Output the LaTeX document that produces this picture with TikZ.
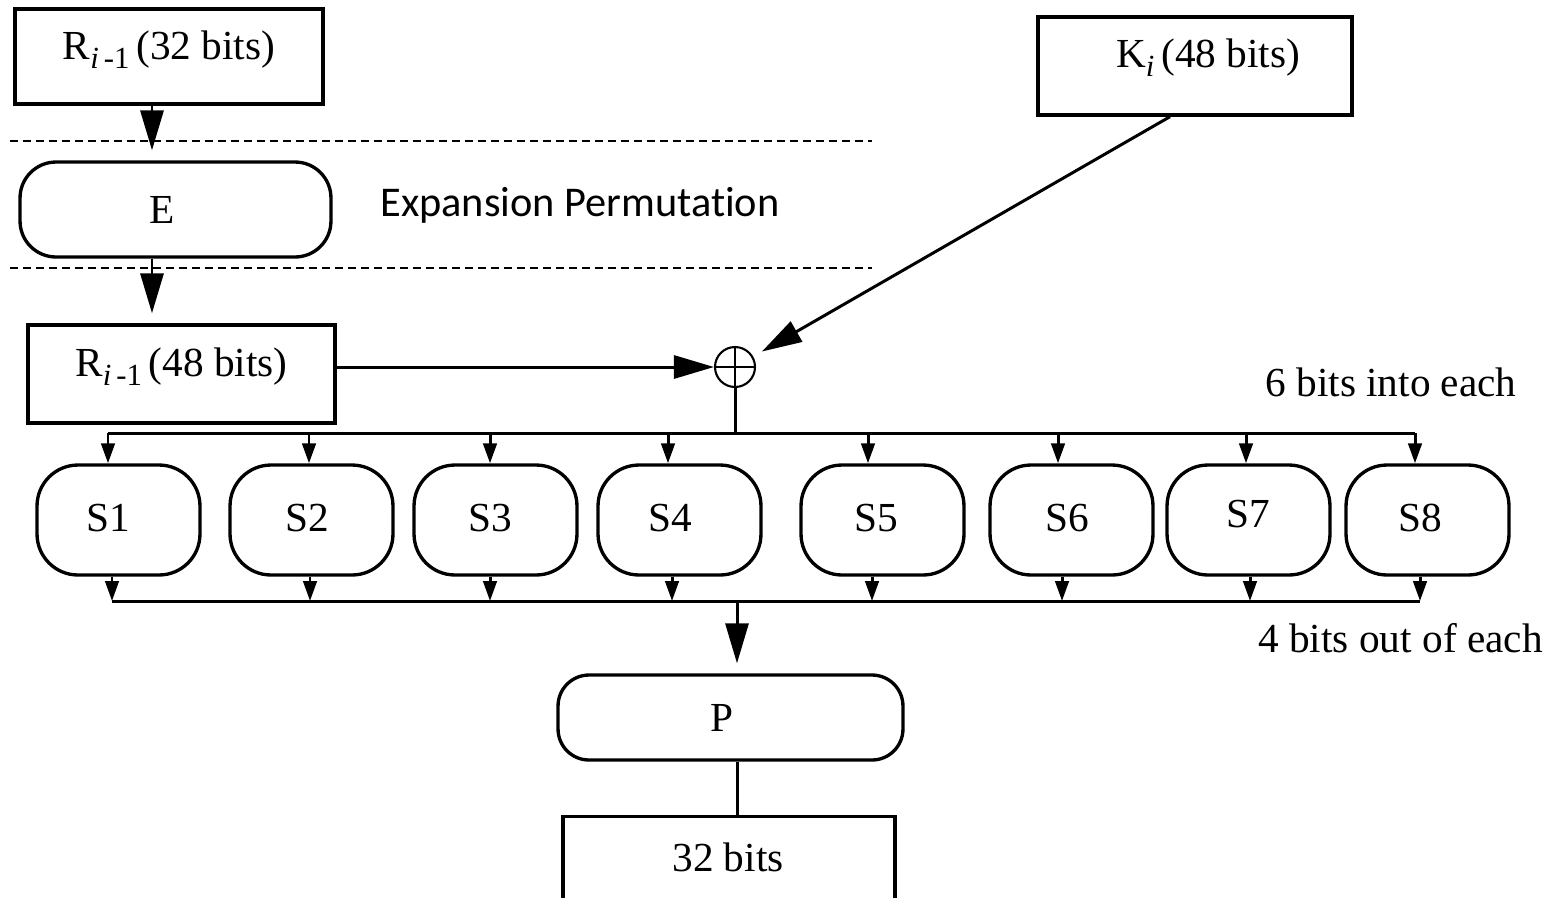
\documentclass[tikz,border=0pt]{standalone}
\usepackage{fontspec}
\setmainfont{Liberation Serif}
\newfontfamily\carlitofont[Ligatures=NoCommon]{Carlito}
\usetikzlibrary{arrows.meta}
\newcommand{\subtxt}[1]{\raisebox{-0.22em}{\fontsize{17.5}{20}\selectfont #1}}
\begin{document}
\begin{tikzpicture}[x=0.02cm,y=-0.02cm,
  every node/.style={font=\fontsize{23.5}{28}\selectfont, inner sep=0pt},
  box/.style={draw, line width=1.9pt, minimum width=#1, minimum height=1.94cm},
  rbox/.style={draw, line width=1.9pt, rounded corners=0.72cm},
  conn/.style={line width=1.7pt},
  big/.style={conn, -{Triangle[length=0.8cm,width=0.46cm]}, shorten >=0.2cm},
  small/.style={conn, -{Triangle[length=0.4cm,width=0.27cm]}},
  sep/.style={line width=1.1pt, dash pattern=on 0.16cm off 0.1cm}]
\path[use as bounding box] (0,0) rectangle (1551,897);
\clip (0,0) rectangle (1551,897);

% top boxes
\node[box=6.16cm, minimum height=1.9cm,
  label={[yshift=0.13cm]center:R\subtxt{\textit{i}\,-1}\,(32 bits)}] (r32) at (169,56.5) {};
\node[rbox, minimum width=6.22cm, minimum height=1.9cm,
  label={[xshift=-0.27cm]center:E}] (E) at (175.5,209.5) {};
\node[box=6.14cm, minimum height=1.96cm,
  label={[yshift=0.14cm]center:R\subtxt{\textit{i}\,-1}\,(48 bits)}] (r48) at (181.5,374) {};
\node[box=6.28cm, minimum height=1.96cm,
  label={[xshift=0.26cm,yshift=0.16cm]center:K\subtxt{\textit{i}}\,(48 bits)}] (key) at (1195,66) {};

\node[font=\carlitofont\fontsize{24.1}{28}\selectfont] (exp) at (580,205) {Expansion Permutation};

% dashed separators
\draw[sep] (10,141) -- (872,141);
\draw[sep] (10,268) -- (872,268);

\coordinate (ax) at (152,0);
\draw[big] (r32.south -| ax) -- (E.north -| ax);
\draw[big] (E.south -| ax) -- (r48.north -| ax);

% xor
\node[circle, draw, line width=1.2pt, minimum size=0.8cm] (xor) at (735,367) {};
\draw[line width=1.1pt] (xor.north) -- (xor.south);
\draw[line width=1.1pt] (xor.west) -- (xor.east);

\draw[big, shorten >=0pt] (r48.east |- xor.west) -- (xor.west);
\coordinate (kx) at (1170,0);
\draw[big] (key.south -| kx) -- (xor);

% S boxes
\coordinate (busy) at (0,433);
\draw[conn] (xor.south) -- (xor.south |- busy);
\foreach \i/\xin/\xout/\cx/\tx/\ty in {1/108/112/118.5/108/518, 2/309/310/311.5/307/518, 3/490/490/495.5/490/518, 4/668/672/679.5/670/518, 5/868/872/882.5/876/518, 6/1058/1062/1071.5/1067/518, 7/1246/1250/1248.5/1248/514, 8/1415/1420/1427.5/1420/518}{
  \node[rbox, rounded corners=0.82cm, minimum width=3.26cm, minimum height=2.2cm,
    label={[xshift={(\tx-\cx)*0.02cm}, yshift={(520-\ty)*0.02cm}]center:S\i}] (s\i) at (\cx,520) {};
  \coordinate (in\i) at (\xin,433);
  \coordinate (out\i) at (\xout,601);
  \draw[small] (in\i) -- (in\i |- s\i.north);
  \draw[small] (out\i |- s\i.south) -- (out\i);
}
\draw[conn] (in1) -- (in8);
\draw[conn] (out1) -- (out8);

\node (into) at (1391,382) {6 bits into each};
\node[anchor=west] (outof) at (1258,638) {4 bits out of each};

% P and output
\node[rbox, rounded corners=0.62cm, minimum width=6.9cm, minimum height=1.7cm,
  label={[xshift=-0.17cm]center:P}] (P) at (730.5,717.5) {};
\node[box=6.64cm, minimum height=2.2cm, anchor=north,
  label={[xshift=-0.02cm, yshift=0.28cm]center:32 bits}] (res) at (729,815) {};
\coordinate (pb) at (737,601);
\draw[big] (pb) -- (pb |- P.north);
\draw[conn] (P.south -| pb) -- (res.north -| pb);
\end{tikzpicture}
\end{document}
